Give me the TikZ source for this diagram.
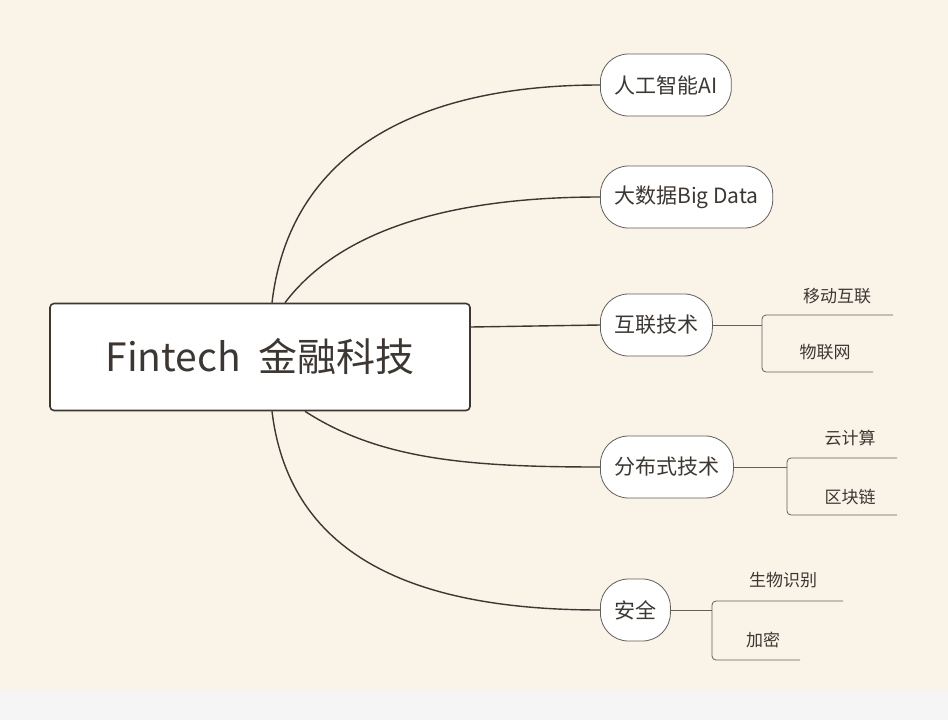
\documentclass[tikz,border=0pt]{standalone}
\usepackage{fontspec}
\setmainfont{Noto Sans CJK SC}
\usetikzlibrary{positioning}
\definecolor{paper}{HTML}{F9F3E8}
\definecolor{ink}{HTML}{3C3732}

\tikzset{
    root/.style={
           rectangle,
           draw=ink, line width=1.6pt,
           rounded corners=4pt,
           fill=white,
           minimum width=420pt, minimum height=107pt,
           font=\fontsize{39}{41}\selectfont, text=ink,
           },
    topic/.style={
           rectangle,
           draw=ink!80, line width=0.8pt,
           rounded corners=28pt,
           fill=white,
           minimum height=62pt, inner xsep=14pt,
           font=\fontsize{21}{23}\selectfont, text=ink,
           },
    leaf/.style={font=\fontsize{17}{19}\selectfont, text=ink},
    branch/.style={draw=ink, line width=1.4pt},
    twig/.style={draw=ink!80, line width=0.8pt, rounded corners=4pt},
}

\begin{document}
\begin{tikzpicture}[x=1pt,y=-1pt]

       \fill[paper] (0,0) rectangle (948,720);
       \fill[gray!8] (0,690) rectangle (948,720);
       \useasboundingbox (0,0) rectangle (948,720);

       \node[root] (FINTECH) at (260,357) {Fintech\ \ 金融科技};

       \node[topic, anchor=west] (AI) at (600,85) {人工智能AI};
       \node[topic, anchor=west] (BIGDATA) at (600,197) {大数据Big Data};
       \node[topic, anchor=west] (NET) at (600,325) {互联技术};
       \node[topic, anchor=west] (DIST) at (600,467) {分布式技术};
       \node[topic, anchor=west] (SAFE) at (600,610) {安全};

       \draw[branch] ([xshift=12pt]FINTECH.north) .. controls (290,150) and (420,85) .. (AI.west);
       \draw[branch] ([xshift=25pt]FINTECH.north) .. controls (340,230) and (450,197) .. (BIGDATA.west);
       \draw[branch] ([yshift=30pt]FINTECH.east) -- (NET.west);
       \draw[branch] ([xshift=45pt]FINTECH.south) .. controls (380,460) and (470,467) .. (DIST.west);
       \draw[branch] ([xshift=12pt]FINTECH.south) .. controls (290,560) and (420,610) .. (SAFE.west);

       % sub branches
       \coordinate (NETFORK) at (762,325);
       \draw[twig] (NET.east) -- (NETFORK);
       \draw[twig] (893,315) -- (762,315) -- (762,372) -- (873,372);
       \node[leaf] (MOBILE) at (837,296) {移动互联};
       \node[leaf] (IOT) at (825,352) {物联网};

       \coordinate (DISTFORK) at (787,467);
       \draw[twig] (DIST.east) -- (DISTFORK);
       \draw[twig] (897,458) -- (787,458) -- (787,515) -- (897,515);
       \node[leaf] (CLOUD) at (850,438) {云计算};
       \node[leaf] (CHAIN) at (850,497) {区块链};

       \coordinate (SAFEFORK) at (712,610);
       \draw[twig] (SAFE.east) -- (SAFEFORK);
       \draw[twig] (843,601) -- (712,601) -- (712,660) -- (800,660);
       \node[leaf] (BIO) at (783,580) {生物识别};
       \node[leaf] (CRYPT) at (763,640) {加密};

\end{tikzpicture}
\end{document}
